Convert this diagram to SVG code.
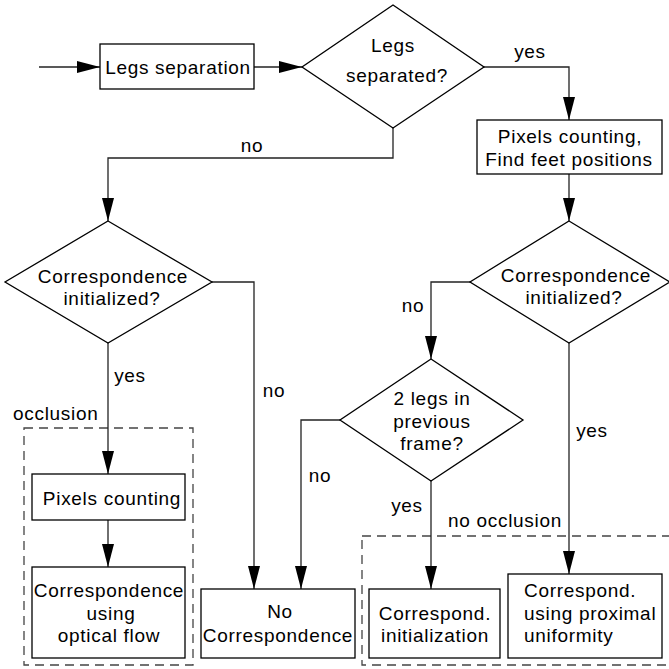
<svg xmlns="http://www.w3.org/2000/svg" width="669" height="669" viewBox="0 0 669 669">
<defs>
<marker id="ah" markerUnits="userSpaceOnUse" markerWidth="24" markerHeight="13" refX="23" refY="6" orient="auto">
<path d="M0,0 L23,6 L0,12 z" fill="#000"/>
</marker>
<style>
text{font-family:"Liberation Sans","DejaVu Sans",sans-serif;font-size:19px;letter-spacing:0.7px;fill:#000}
.c{text-anchor:middle}
.n{fill:#fff;stroke:#000;stroke-width:1.3}
.e{fill:none;stroke:#222;stroke-width:1.3}
.d{fill:none;stroke:#444;stroke-width:1.3;stroke-dasharray:9,6}
</style>
</defs>
<rect width="669" height="669" fill="#fff"/>
<g id="groups">
<rect class="d" x="24" y="428" width="169" height="237"/>
<text x="13" y="420">occlusion</text>
<rect class="d" x="362" y="536" width="320" height="129"/>
<text x="448" y="527">no occlusion</text>
</g>
<g id="connectors">
<path class="e" d="M39,67 H100" marker-end="url(#ah)"/>
<path class="e" d="M254,67 H302" marker-end="url(#ah)"/>
<path class="e" d="M484,67 H569 V120" marker-end="url(#ah)"/>
<text x="530" y="58" class="c">yes</text>
<path class="e" d="M393,128 V158 H108 V221" marker-end="url(#ah)"/>
<text x="252" y="152" class="c">no</text>
<path class="e" d="M569,174 V221" marker-end="url(#ah)"/>
<path class="e" d="M108,343 V474" marker-end="url(#ah)"/>
<text x="130" y="382" class="c">yes</text>
<path class="e" d="M108,520 V567" marker-end="url(#ah)"/>
<path class="e" d="M212,282 H254 V589" marker-end="url(#ah)"/>
<text x="274" y="397" class="c">no</text>
<path class="e" d="M470,282 H431 V359" marker-end="url(#ah)"/>
<text x="413" y="312" class="c">no</text>
<path class="e" d="M569,343 V574" marker-end="url(#ah)"/>
<text x="592" y="437" class="c">yes</text>
<path class="e" d="M340,420 H301 V589" marker-end="url(#ah)"/>
<text x="320" y="482" class="c">no</text>
<path class="e" d="M431,481 V589" marker-end="url(#ah)"/>
<text x="407" y="512" class="c">yes</text>
</g>
<g id="legs-separation">
<rect class="n" x="100" y="44" width="154" height="45"/>
<text x="178" y="74" class="c">Legs separation</text>
</g>
<g id="legs-separated">
<path class="n" d="M393,5 L484,67 L393,128 L302,67 z"/>
<text x="393" y="52" class="c">Legs</text>
<text x="397" y="82" class="c">separated?</text>
</g>
<g id="pixels-feet">
<rect class="n" x="477" y="120" width="185" height="54"/>
<text x="570" y="143" class="c">Pixels counting,</text>
<text x="569" y="166" class="c">Find feet positions</text>
</g>
<g id="corr-init-left">
<path class="n" d="M108,221 L212,282 L108,343 L5,282 z"/>
<text x="113" y="283" class="c">Correspondence</text>
<text x="112" y="305" class="c">initialized?</text>
</g>
<g id="corr-init-right">
<path class="n" d="M569,221 L670,282 L569,343 L470,282 z"/>
<text x="576" y="282" class="c">Correspondence</text>
<text x="574" y="304" class="c">initialized?</text>
</g>
<g id="two-legs">
<path class="n" d="M431,359 L523,420 L431,481 L340,420 z"/>
<text x="432" y="405" class="c">2 legs in</text>
<text x="432" y="428" class="c">previous</text>
<text x="432" y="450" class="c">frame?</text>
</g>
<g id="pixels-counting">
<rect class="n" x="32" y="474" width="153" height="46"/>
<text x="112" y="505" class="c">Pixels counting</text>
</g>
<g id="optical-flow">
<rect class="n" x="32" y="567" width="153" height="91"/>
<text x="109" y="597" class="c">Correspondence</text>
<text x="111" y="620" class="c">using</text>
<text x="109" y="642" class="c">optical flow</text>
</g>
<g id="no-correspondence">
<rect class="n" x="201" y="589" width="154" height="69"/>
<text x="280" y="618" class="c">No</text>
<text x="278" y="642" class="c">Correspondence</text>
</g>
<g id="corr-initialization">
<rect class="n" x="369" y="589" width="131" height="69"/>
<text x="435" y="620" class="c">Correspond.</text>
<text x="435" y="642" class="c">initialization</text>
</g>
<g id="proximal">
<rect class="n" x="508" y="574" width="154" height="84"/>
<text x="524" y="597">Correspond.</text>
<text x="524" y="620">using proximal</text>
<text x="524" y="642">uniformity</text>
</g>
</svg>
